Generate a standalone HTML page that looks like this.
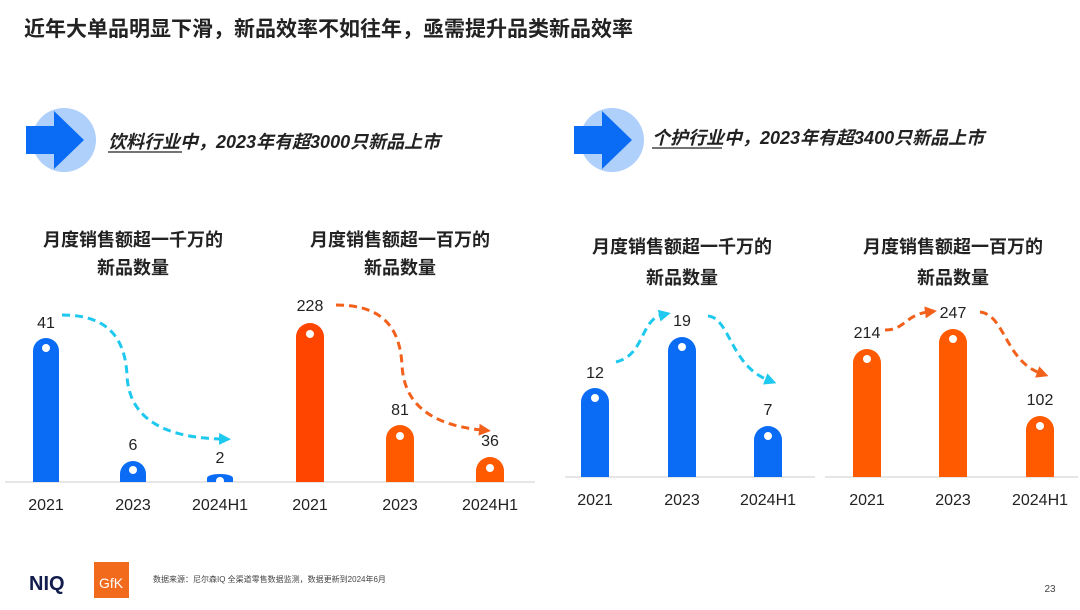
<!DOCTYPE html>
<html><head><meta charset="utf-8"><style>
body{margin:0;width:1080px;height:605px;background:#fff;overflow:hidden;font-family:"Liberation Sans","Noto Sans CJK SC",sans-serif}
</style></head><body>
<svg width="1080" height="605" xmlns="http://www.w3.org/2000/svg" font-family="Liberation Sans, Noto Sans CJK SC, sans-serif">
<defs>
<marker id="mb" markerUnits="userSpaceOnUse" markerWidth="12" markerHeight="12" refX="3" refY="6" orient="auto"><path d="M0,0 L12,6 L0,12 z" fill="#1ec8ee"/></marker>
<marker id="mo" markerUnits="userSpaceOnUse" markerWidth="12" markerHeight="12" refX="3" refY="6" orient="auto"><path d="M0,0 L12,6 L0,12 z" fill="#f2611c"/></marker>
</defs>
<text x="24" y="36" font-size="21" font-weight="bold" fill="#222">近年大单品明显下滑，新品效率不如往年，亟需提升品类新品效率</text>
<circle cx="64" cy="140" r="32" fill="#aed0fb"/>
<path d="M26,126 H54 V111 L84,140 L54,169 V154 H26 z" fill="#0a6cf5"/>
<text x="108" y="148" font-size="18" font-weight="bold" font-style="italic" fill="#222">饮料行业中，2023年有超3000只新品上市</text>
<line x1="108" y1="152" x2="182" y2="152" stroke="#222" stroke-width="1.2"/>
<circle cx="612" cy="140" r="32" fill="#aed0fb"/>
<path d="M574,126 H602 V111 L632,140 L602,169 V154 H574 z" fill="#0a6cf5"/>
<text x="652" y="144" font-size="18" font-weight="bold" font-style="italic" fill="#222">个护行业中，2023年有超3400只新品上市</text>
<line x1="652" y1="148" x2="722" y2="148" stroke="#222" stroke-width="1.2"/>
<g font-size="18" font-weight="bold" fill="#222" text-anchor="middle">
<text x="133" y="246">月度销售额超一千万的</text><text x="133" y="274">新品数量</text>
<text x="400" y="246">月度销售额超一百万的</text><text x="400" y="274">新品数量</text>
<text x="682" y="253">月度销售额超一千万的</text><text x="682" y="284">新品数量</text>
<text x="953" y="253">月度销售额超一百万的</text><text x="953" y="284">新品数量</text>
</g>
<line x1="5" y1="482" x2="535" y2="482" stroke="#e6e6e6" stroke-width="2"/>
<line x1="565" y1="477" x2="815" y2="477" stroke="#e6e6e6" stroke-width="2"/>
<line x1="825" y1="477" x2="1078" y2="477" stroke="#e6e6e6" stroke-width="2"/>
<g>
<path d="M33,482 V351 A13,13 0 0 1 59,351 V482 z" fill="#0a6cf5"/>
<path d="M120,482 V474 A13,13 0 0 1 146,474 V482 z" fill="#0a6cf5"/>
<path d="M207,482 V478 A13,4 0 0 1 233,478 V482 z" fill="#0a6cf5"/>
<path d="M296,482 V337 A14,14 0 0 1 324,337 V482 z" fill="#ff4500"/>
<path d="M386,482 V439 A14,14 0 0 1 414,439 V482 z" fill="#ff5a00"/>
<path d="M476,482 V471 A14,14 0 0 1 504,471 V482 z" fill="#ff5a00"/>
<path d="M581,477 V402 A14,14 0 0 1 609,402 V477 z" fill="#0a6cf5"/>
<path d="M668,477 V351 A14,14 0 0 1 696,351 V477 z" fill="#0a6cf5"/>
<path d="M754,477 V440 A14,14 0 0 1 782,440 V477 z" fill="#0a6cf5"/>
<path d="M853,477 V363 A14,14 0 0 1 881,363 V477 z" fill="#ff5a00"/>
<path d="M939,477 V343 A14,14 0 0 1 967,343 V477 z" fill="#ff5a00"/>
<path d="M1026,477 V430 A14,14 0 0 1 1054,430 V477 z" fill="#ff5a00"/>
</g>
<g fill="#fff">
<circle cx="46" cy="348" r="4"/><circle cx="133" cy="470" r="4"/><circle cx="220" cy="481" r="4"/>
<circle cx="310" cy="334" r="4"/><circle cx="400" cy="436" r="4"/><circle cx="490" cy="468" r="4"/>
<circle cx="595" cy="398" r="4"/><circle cx="682" cy="347" r="4"/><circle cx="768" cy="436" r="4"/>
<circle cx="867" cy="359" r="4"/><circle cx="953" cy="339" r="4"/><circle cx="1040" cy="426" r="4"/>
</g>
<g font-size="16" fill="#222" text-anchor="middle">
<text x="46" y="328">41</text><text x="133" y="450">6</text><text x="220" y="463">2</text>
<text x="310" y="311">228</text><text x="400" y="415">81</text><text x="490" y="446">36</text>
<text x="595" y="378">12</text><text x="682" y="326">19</text><text x="768" y="415">7</text>
<text x="867" y="338">214</text><text x="953" y="318">247</text><text x="1040" y="405">102</text>
</g>
<g font-size="16" fill="#222" text-anchor="middle">
<text x="46" y="510">2021</text><text x="133" y="510">2023</text><text x="220" y="510">2024H1</text>
<text x="310" y="510">2021</text><text x="400" y="510">2023</text><text x="490" y="510">2024H1</text>
<text x="595" y="505">2021</text><text x="682" y="505">2023</text><text x="768" y="505">2024H1</text>
<text x="867" y="505">2021</text><text x="953" y="505">2023</text><text x="1040" y="505">2024H1</text>
</g>
<g fill="none" stroke-width="3" stroke-dasharray="8,5">
<path d="M62,315 C110,315 125,340 127,375 C129,425 175,438 222,439" stroke="#1ec8ee" marker-end="url(#mb)"/>
<path d="M336,305 C385,305 400,330 402,365 C404,410 440,426 482,430" stroke="#f2611c" marker-end="url(#mo)"/>
<path d="M616,362 C645,355 640,320 662,315" stroke="#1ec8ee" marker-end="url(#mb)"/>
<path d="M708,316 C730,318 730,365 768,380" stroke="#1ec8ee" marker-end="url(#mb)"/>
<path d="M885,330 C905,330 905,315 928,312" stroke="#f2611c" marker-end="url(#mo)"/>
<path d="M980,312 C1005,315 1005,360 1040,373" stroke="#f2611c" marker-end="url(#mo)"/>
</g>
<text x="29" y="590" font-size="20" font-weight="bold" fill="#121d4d">NIQ</text>
<rect x="94" y="562" width="35" height="36" fill="#f26b1d"/>
<text x="111" y="588" font-size="14" fill="#fff" text-anchor="middle">GfK</text>
<text x="153" y="582" font-size="8" fill="#444">数据来源：尼尔森IQ 全渠道零售数据监测，数据更新到2024年6月</text>
<text x="1050" y="592" font-size="10" fill="#444" text-anchor="middle">23</text>
</svg>
</body></html>
